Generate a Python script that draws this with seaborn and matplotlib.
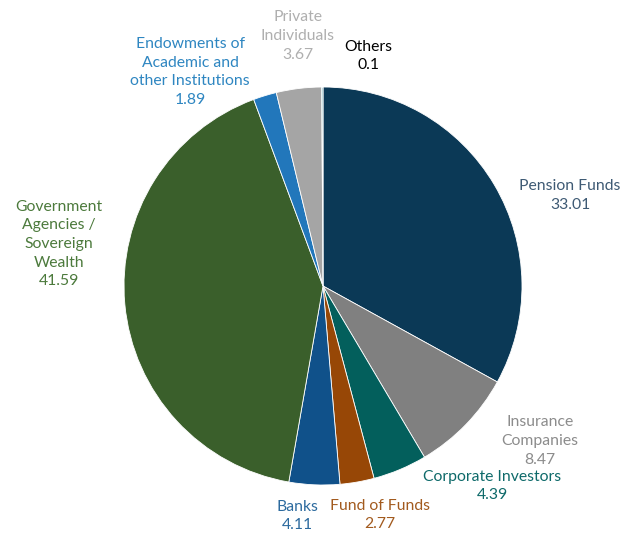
import matplotlib
matplotlib.use("Agg")
import matplotlib.pyplot as plt
import seaborn as sns

categories = ["Pension Funds", "Insurance\nCompanies", "Corporate Investors", "Fund of Funds",
              "Banks", "Government\nAgencies /\nSovereign\nWealth",
              "Endowments of\nAcademic and\nother Institutions", "Private\nIndividuals", "Others"]
values = [33.01, 8.47, 4.39, 2.77, 4.11, 41.59, 1.89, 3.67, 0.1]
value_labels = ["33.01", "8.47", "4.39", "2.77", "4.11", "41.59", "1.89", "3.67", "0.1"]

slice_colors = ["#0B3956", "#808080", "#035F5C", "#974706", "#10518A",
                "#3A5F2B", "#2277BB", "#A5A5A5", "#5FA8B0"]
text_colors = ["#3E5A74", "#8C8C8C", "#0E6A6A", "#A25A1E", "#2C6A9E",
               "#4C7A3C", "#2E86C1", "#AFAFAF", "#000000"]
# label block centres in pixel coordinates (x, y from top)
label_pos = [(570, 195.5), (540, 441), (492, 486), (380, 515), (297, 516),
             (59, 244), (190, 72), (298, 36), (368, 56)]

sns.set_theme(style="white")
plt.rcParams['font.family'] = ['Lato', 'DejaVu Sans']

W, H = 629, 533
fig = plt.figure(figsize=(W / 100, H / 100), dpi=100)
ax = fig.add_axes([0, 0, 1, 1])

cx, cy, r = 323, H - 286, 199
ax.pie(values, colors=slice_colors, startangle=90, counterclock=False,
       center=(cx, cy), radius=r, frame=True,
       wedgeprops=dict(edgecolor="white", linewidth=0.6))
ax.set_xlim(0, W)
ax.set_ylim(0, H)
ax.set_aspect('equal')
ax.axis('off')

for cat, vl, col, (px, py) in zip(categories, value_labels, text_colors, label_pos):
    ax.text(px, H - py, f"{cat}\n{vl}", ha='center', va='center', multialignment='center',
            color=col, fontsize=11.3, linespacing=1.42)

fig.savefig("out.png", dpi=100)
